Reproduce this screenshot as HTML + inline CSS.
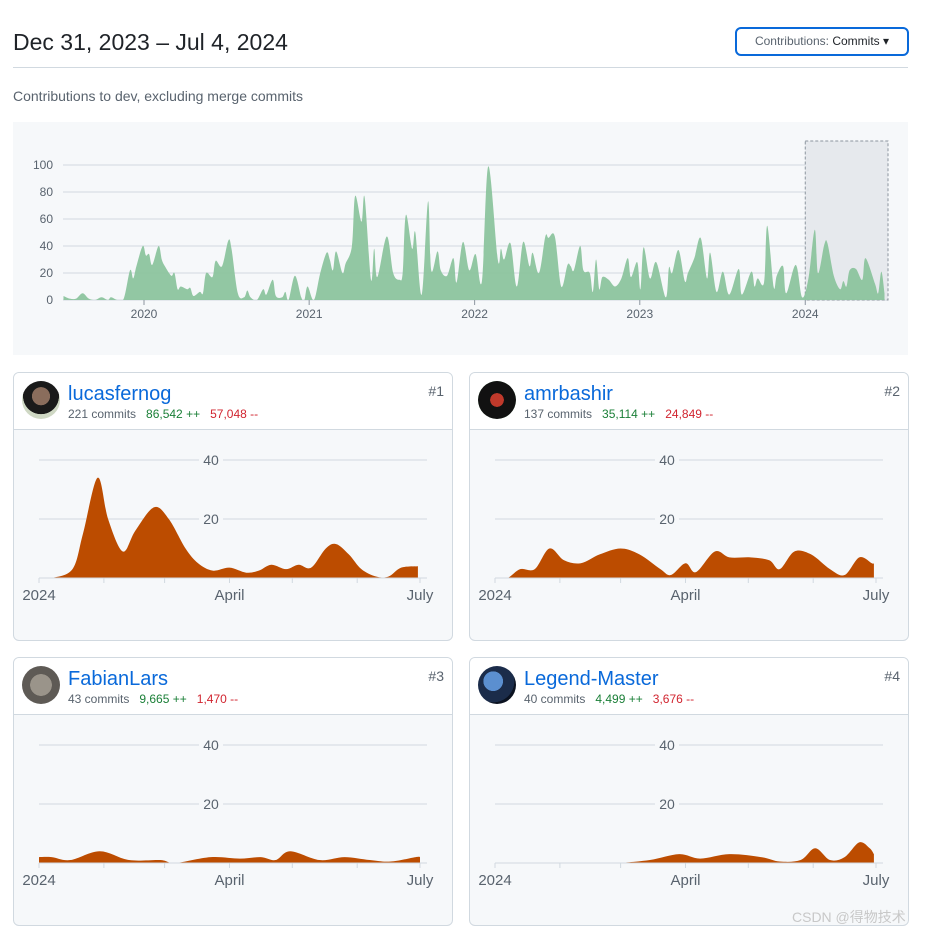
<!DOCTYPE html>
<html><head><meta charset="utf-8">
<style>
body{margin:0;width:932px;height:932px;background:#fff;font-family:"Liberation Sans",sans-serif;position:relative;overflow:hidden;color:#1f2328}
.abs{position:absolute}
.card{position:absolute;border:1px solid #d1d9e0;border-radius:6px;background:#f6f8fa;overflow:hidden}
.card .hd{position:absolute;left:0;top:0;right:0;height:56px;background:#fff;border-bottom:1px solid #d1d9e0}
.av{position:absolute;left:8px;top:8px;width:38px;height:38px;border-radius:50%}
.nm{position:absolute;left:54px;top:10px;font-size:20px;color:#0969da}
.st{position:absolute;left:54px;top:34px;font-size:12px;color:#59636e;white-space:pre}
.rk{position:absolute;right:8px;top:10px;font-size:14px;color:#59636e}
.g{color:#1a7f37}.r{color:#d1242f}
</style></head><body>
<div class="abs" style="left:13px;top:29px;font-size:23px">Dec 31, 2023 – Jul 4, 2024</div>
<div class="abs" style="left:735px;top:27px;width:170px;height:25px;border:2px solid #0969da;border-radius:6px;font-size:12px;line-height:25px;text-align:center;color:#1f2328"><span style="color:#59636e">Contributions:</span> Commits ▾</div>
<div class="abs" style="left:13px;top:67px;width:895px;height:1px;background:#d1d9e0"></div>
<div class="abs" style="left:13px;top:88px;font-size:14px;color:#59636e">Contributions to dev, excluding merge commits</div>
<div class="abs" style="left:13px;top:122px;width:895px;height:233px;background:#f6f8fa"></div>

<div class="card" style="left:13px;top:372px;width:438px;height:267px"><div class="hd"><div class="av" style="background:radial-gradient(circle at 50% 40%,#8a6d5c 0 30%,#1a1a1a 31% 60%,#cfd8c4 61%)"></div><div class="nm">lucasfernog</div><div class="st">221 commits   <span class="g">86,542 ++</span>   <span class="r">57,048 --</span></div><div class="rk">#1</div></div></div>
<div class="card" style="left:469px;top:372px;width:438px;height:267px"><div class="hd"><div class="av" style="background:radial-gradient(circle,#c0392b 0 25%,#111 26% 70%,#2e7d32 71%)"></div><div class="nm">amrbashir</div><div class="st">137 commits   <span class="g">35,114 ++</span>   <span class="r">24,849 --</span></div><div class="rk">#2</div></div></div>
<div class="card" style="left:13px;top:657px;width:438px;height:267px"><div class="hd"><div class="av" style="background:radial-gradient(circle,#9a948a 0 40%,#5e5a55 41%)"></div><div class="nm">FabianLars</div><div class="st">43 commits   <span class="g">9,665 ++</span>   <span class="r">1,470 --</span></div><div class="rk">#3</div></div></div>
<div class="card" style="left:469px;top:657px;width:438px;height:267px"><div class="hd"><div class="av" style="background:radial-gradient(circle at 40% 40%,#5b8fd0 0 30%,#1b2c4a 31% 65%,#0b1220 66%)"></div><div class="nm">Legend-Master</div><div class="st">40 commits   <span class="g">4,499 ++</span>   <span class="r">3,676 --</span></div><div class="rk">#4</div></div></div>

<div class="abs" style="left:792px;top:907px;font-size:14px;color:#c8c8c8;font-family:'Liberation Sans','Noto Sans CJK SC',sans-serif">CSDN @得物技术</div>

<svg id="chart" class="abs" style="left:0;top:0" width="932" height="932"><defs><clipPath id="mclip"><rect x="63" y="100" width="825" height="200"/></clipPath></defs></svg>
<script>
// Overview (weeks since mid-2019, commits)
const mainWeeks=[0,2,4,6,8,10,12,14,15,17,19,21,22,23,25,26,27,28,30,31,32,34,35,36,37,39,40,41,43,44,45,47,48,50,52,53,55,57,58,59,61,63,64,66,67,69,70,71,73,75,76,77,79,81,83,84,85,86,88,89,91,92,94,95,97,98,99,102,104,106,107,108,110,111,113,115,116,118,119,121,123,124,126,128,130,132,134,137,138,139,141,143,145,147,148,150,152,153,155,157,159,160,161,163,164,166,167,168,169,170,172,174,176,178,179,181,182,183,185,187,190,191,192,194,196,197,199,201,203,204,206,208,210,213,214,217,218,219,221,222,224,225,227,228,231,233,235,237,238,240,241,243,245,246,247,248,250,252,253,256,257,258,259];
const mainValues=[3,1,1,5,1,0,2,0,2,0,1,22,16,25,40,33,34,26,40,30,25,18,20,8,10,8,9,3,6,5,20,17,29,25,44,38,5,2,7,2,0,8,4,15,3,2,6,0,18,2,0,10,0,20,35,30,22,36,20,27,40,77,58,76,15,38,17,47,20,15,20,63,38,50,4,73,22,36,22,18,31,13,43,22,34,14,99,30,38,30,42,10,43,25,35,20,47,46,47,10,26,25,22,40,22,20,6,30,8,17,15,10,16,31,17,28,8,39,16,28,2,24,20,37,14,20,31,46,16,35,6,21,4,23,4,21,10,16,13,55,10,18,25,5,26,2,16,52,20,41,42,18,8,14,10,22,23,15,31,12,5,21,5];
const mainYTicks=[0,20,40,60,80,100];
const mainXLabels=["2020","2021","2022","2023","2024"];
const mainXWeeks=[25.4,77.5,129.7,181.8,234];
// Per-contributor (days since Jan 1 2024, commits per week)
const c1Days=[0,6,16,21,28,33,40,46,55,62,70,76,83,91,99,105,111,118,124,130,137,142,148,154,161,167,173,181];
const c1Vals=[0,0,3,15,34,20,9,16,24,20,10,5,2.5,3.5,1.8,2.5,4.5,3,4.5,3.5,10,11.5,8,3,0.5,0.5,3.5,4];
const c2Days=[0,6,12,19,26,33,41,50,60,69,79,84,91,96,105,112,122,131,136,143,151,160,167,174,180,181];
const c2Vals=[0,0,3,3,10,6,5,8,10,8,3,1,5,2,9,7,7,6,3,9,8,3,1,7,5,5];
const c3Days=[0,6,15,29,43,58,65,82,96,106,113,120,134,146,158,168,180,182];
const c3Vals=[2,2,1,4,1,1,0,2,1.5,2,1,4,1,2,1,0.5,2,2];
const c4Days=[60,74,88,98,112,127,136,146,153,160,167,174,179,181];
const c4Vals=[0,1,3,1.5,3,2,0.5,1,5,1,2,7,5,3];
const cardYTicks=[20,40];
const cardXLabels=["2024","April","July"];
const cardXLabelDays=[0,91,182];
const monthDays=[0,31,60,91,121,152,182];

const NS="http://www.w3.org/2000/svg",svg=document.getElementById('chart');
function mk(t,a,p){const e=document.createElementNS(NS,t);for(const k in a)e.setAttribute(k,a[k]);(p||svg).appendChild(e);return e;}
function smooth(pts){let d=`M${pts[0][0]},${pts[0][1]}`;for(let i=0;i<pts.length-1;i++){const p0=pts[i-1]||pts[i],p1=pts[i],p2=pts[i+1],p3=pts[i+2]||p2;
 const c1=[p1[0]+(p2[0]-p0[0])/6,p1[1]+(p2[1]-p0[1])/6],c2=[p2[0]-(p3[0]-p1[0])/6,p2[1]-(p3[1]-p1[1])/6];
 d+=`C${c1[0]},${c1[1]} ${c2[0]},${c2[1]} ${p2[0]},${p2[1]}`;}return d;}

// main chart
const mx=w=>144+(w-25.4)*3.17, my=v=>300-v*1.35;
mainYTicks.forEach(t=>{const l=mk('line',{x1:63,x2:888,y1:my(t),y2:my(t),stroke:'#d1d9e0','stroke-width':1});
 const tx=mk('text',{x:53,y:my(t)+4,'text-anchor':'end','font-size':12,fill:'#59636e'});tx.textContent=t;});
const sel=mk('rect',{x:mx(234),y:141,width:888-mx(234),height:159,fill:'#e6e9ed',stroke:'#8c959f','stroke-dasharray':'3,2'});


let mp=mainWeeks.map((w,i)=>[mx(w),my(mainValues[i])]);
let md=smooth(mp)+` L${mx(mainWeeks[mainWeeks.length-1])},305 L${mx(mainWeeks[0])},305Z`;
const ma=mk('path',{d:md,fill:'#8cc49e','fill-opacity':0.95,'clip-path':'url(#mclip)'});


mainXLabels.forEach((s,i)=>{const x=mx(mainXWeeks[i]);mk('line',{x1:x,x2:x,y1:300,y2:305,stroke:'#8c959f'});const t=mk('text',{x:x,y:318,'text-anchor':'middle','font-size':12,fill:'#59636e'});t.textContent=s;});

// cards
function card(ox,oy,days,vals,name){
 const cx=d=>ox+39+d*381/182, cy=v=>oy+578-v*2.95;
 cardYTicks.forEach(t=>{const l=mk('line',{x1:ox+39,x2:ox+427,y1:cy(t),y2:cy(t),stroke:'#d1d9e0'});
  mk('rect',{x:ox+199,y:cy(t)-1,width:24,height:2,fill:'#f6f8fa'});
  const tx=mk('text',{x:ox+211,y:cy(t)+5,'text-anchor':'middle','font-size':14,fill:'#59636e'});tx.textContent=t;});
 const pts=days.map((d,i)=>[cx(d),cy(vals[i])]);
 let d=smooth(pts);const base=cy(0);
 d+=` L${pts[pts.length-1][0]},${base} L${pts[0][0]},${base}Z`;
 const a=mk('path',{d:d,fill:'#bc4c00'});
 mk('rect',{x:ox+30,y:base,width:410,height:10,fill:'#f6f8fa'});
 mk('line',{x1:ox+39,x2:ox+427,y1:base,y2:base,stroke:'#d1d9e0'});
 monthDays.forEach(m=>mk('line',{x1:cx(m),x2:cx(m),y1:base,y2:base+5,stroke:'#d1d9e0'}));
 cardXLabels.forEach((s,i)=>{const t=mk('text',{x:cx(cardXLabelDays[i]),y:oy+600,'text-anchor':'middle','font-size':15,fill:'#59636e'});t.textContent=s;});
}
card(0,0,c1Days,c1Vals,'lucasfernog-area');
card(456,0,c2Days,c2Vals,'amrbashir-area');
card(0,285,c3Days,c3Vals,'fabianlars-area');
card(456,285,c4Days,c4Vals,'legend-master-area');
</script>
</body></html>
